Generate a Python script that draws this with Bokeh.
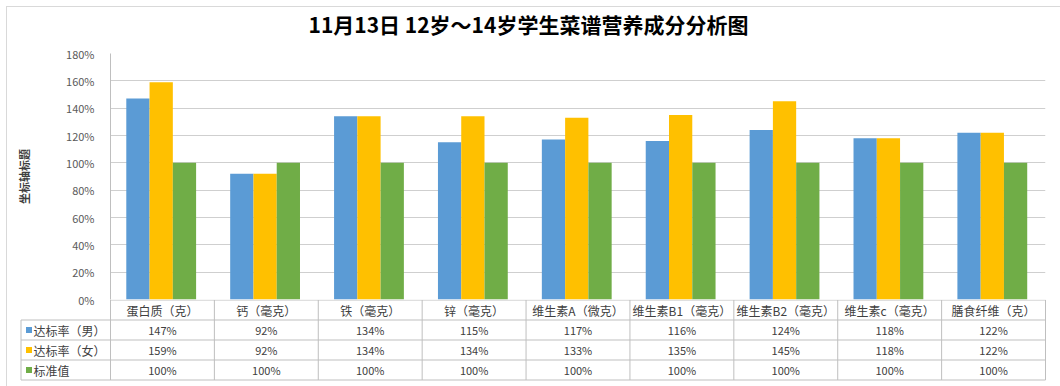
from bokeh.plotting import figure
from bokeh.models import ColumnDataSource, Range1d, FixedTicker, PrintfTickFormatter, Div
from bokeh.core.properties import value
from bokeh.embed import file_html
from bokeh.resources import INLINE

# ---------------- data ----------------
categories = ["蛋白质（克）", "钙（毫克）", "铁（毫克）", "锌（毫克）", "维生素A（微克）",
              "维生素B1（毫克）", "维生素B2（毫克）", "维生素c（毫克）", "膳食纤维（克）"]
male = [147, 92, 134, 115, 117, 116, 124, 118, 122]
female = [159, 92, 134, 134, 133, 135, 145, 118, 122]
standard = [100, 100, 100, 100, 100, 100, 100, 100, 100]
series_names = ["达标率（男）", "达标率（女）", "标准值"]
y_ticks = [0, 20, 40, 60, 80, 100, 120, 140, 160, 180]
title_text = "11月13日  12岁～14岁学生菜谱营养成分分析图"
y_title = "坐标轴标题"

# ---------------- style / layout ----------------
colors = ["#5B9BD5", "#FFC000", "#70AD47"]
FONT = "Noto Sans CJK SC"
LINE = "#bfbfbf"
GRID = "#cfcfcf"
TXT = "#404040"
W, H = 1060, 386
PLOT_L, PLOT_R, PLOT_T, PLOT_B = 110, 1045, 53, 299
TITLE_X, TITLE_Y = 308, 23
TABLE_L = 19
ROW_H = 20
n = len(categories)
unit = (PLOT_R - PLOT_L) / n
series = [male, female, standard]


def place(left, top_):
    return {"position": "absolute", "left": f"{left}px", "top": f"{top_}px"}


# ---------------- title strip ----------------
tfig = figure(width=W, height=PLOT_T - 3, output_backend="svg", toolbar_location=None,
              x_range=Range1d(0, W), y_range=Range1d(PLOT_T - 3, 0),
              min_border=0, x_axis_location=None, y_axis_location=None,
              styles=place(0, 0))
tfig.outline_line_color = None
tfig.grid.visible = False
tfig.border_fill_color = None
tfig.background_fill_color = None
tfig.text(x=[TITLE_X], y=[TITLE_Y], text=[title_text], text_font=value(FONT),
          text_font_size="21px", text_font_style="bold", text_color="#000000",
          text_align="left", text_baseline="middle")

# ---------------- top figure (bars) ----------------
top = figure(width=W, height=H, output_backend="svg", toolbar_location=None,
             x_range=Range1d(0, n), y_range=Range1d(0, y_ticks[-1]),
             min_border_left=PLOT_L, min_border_right=W - PLOT_R,
             min_border_top=PLOT_T, min_border_bottom=H - PLOT_B,
             styles=place(0, 0))
top.outline_line_color = None
top.background_fill_color = "white"
top.border_fill_color = None
top.xaxis.visible = False
top.xgrid.visible = False
top.ygrid.grid_line_color = GRID
top.ygrid.ticker = FixedTicker(ticks=y_ticks)
ax = top.yaxis[0]
ax.ticker = FixedTicker(ticks=y_ticks)
ax.formatter = PrintfTickFormatter(format="%d%%")
ax.axis_line_color = LINE
ax.major_tick_line_color = None
ax.minor_tick_line_color = None
ax.major_label_standoff = 10
ax.major_label_text_font = FONT
ax.major_label_text_font_size = "11px"
ax.major_label_text_color = "#595959"
ax.axis_label = y_title
ax.axis_label_text_font = FONT
ax.axis_label_text_font_size = "11px"
ax.axis_label_text_font_style = "bold"
ax.axis_label_text_color = TXT
ax.axis_label_standoff = 31

bar_w = 0.224
offsets = [-bar_w, 0.0, bar_w]
xs = [i + 0.5 for i in range(n)]
for s, vals in enumerate(series):
    src = ColumnDataSource(dict(x=[x + offsets[s] - 0.012 for x in xs], top=vals))
    top.vbar(x="x", top="top", bottom=0, width=bar_w, source=src,
             fill_color=colors[s], line_color=None)

# ---------------- bottom figure (data table) ----------------
bh = H - PLOT_B
frame_h = 82
y_top = 4 + 0.5 / ROW_H
y_bot = y_top - frame_h / ROW_H
x_left = (TABLE_L - PLOT_L) / unit
x_right = n + 1 / unit
bot = figure(width=W, height=bh, output_backend="svg", toolbar_location=None,
             x_range=Range1d(x_left, x_right), y_range=Range1d(y_bot, y_top),
             min_border_left=TABLE_L, min_border_right=W - PLOT_R - 1,
             min_border_top=0, min_border_bottom=bh - frame_h,
             x_axis_location=None, y_axis_location=None,
             styles=place(0, PLOT_B))
bot.outline_line_color = None
bot.grid.visible = False
bot.border_fill_color = "white"
bot.background_fill_color = "white"

leftx = (TABLE_L + 1.5 - PLOT_L) / unit
hx0, hx1, hy = [], [], []
for r in range(4):
    hx0.append(leftx); hx1.append(n); hy.append(r)
hx0.append(0); hx1.append(n); hy.append(4)
bot.segment(x0=hx0, x1=hx1, y0=hy, y1=hy, line_color=LINE, line_width=1)
vx, vy0, vy1 = [], [], []
for k in range(n + 1):
    vx.append(k); vy0.append(0); vy1.append(4)
vx.append(leftx); vy0.append(0); vy1.append(3)
bot.segment(x0=vx, x1=vx, y0=vy0, y1=vy1, line_color=LINE, line_width=1)

bot.text(x=xs, y=[3.5] * n, text=categories, text_font=value(FONT), text_font_size="12px",
         text_color=TXT, text_align="center", text_baseline="middle")
for s, vals in enumerate(series):
    yrow = 2.5 - s
    bot.text(x=xs, y=[yrow] * n, text=[f"{v}%" for v in vals], text_font=value(FONT),
             text_font_size="11px", text_color=TXT, text_align="center", text_baseline="middle")
    bot.scatter(x=[(28.5 - PLOT_L) / unit], y=[yrow], marker="square", size=6,
                fill_color=colors[s], line_color=None)
    bot.text(x=[(33 - PLOT_L) / unit], y=[yrow], text=[series_names[s]], text_font=value(FONT),
             text_font_size="12px", text_color=TXT, text_align="left", text_baseline="middle")

frame_div = Div(text="", width=1, height=1,
                styles={"position": "absolute", "left": "1px", "top": "1px",
                        "width": "1056px", "height": "383px",
                        "border": "1px solid #d9d9d9", "pointer-events": "none"})

open("out.html", "w").write(file_html([bot, tfig, top, frame_div], INLINE))
